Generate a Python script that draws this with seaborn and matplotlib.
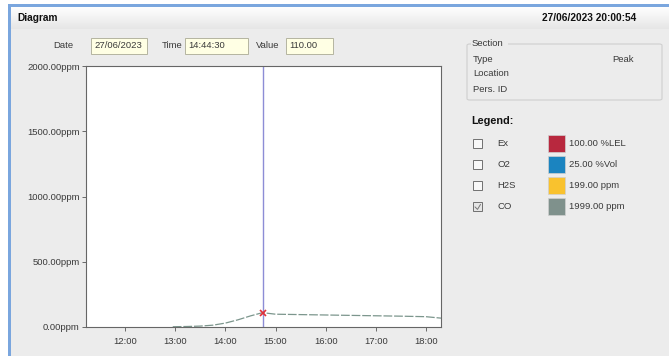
import matplotlib
matplotlib.use("Agg")
import matplotlib.pyplot as plt
import numpy as np
import pandas as pd
import seaborn as sns
from matplotlib.patches import Rectangle, FancyBboxPatch
from matplotlib.ticker import FixedLocator, FuncFormatter

W, H = 669, 356

# CO reading over time (decimal hours)
co_hours = [12.95, 13.25, 13.5, 13.75, 14.0, 14.25, 14.5, 14.742, 15.0, 15.5, 16.0, 16.5, 17.0, 17.5, 18.0, 18.3]
co_ppm = [2, 4, 7, 14, 30, 55, 85, 110, 98, 95, 92, 89, 86, 83, 79, 68]

cursor_hour = 14.742
cursor_value = 110.0
y_ticks = [0, 500, 1000, 1500, 2000]
x_ticks = [12, 13, 14, 15, 16, 17, 18]

legend_names = ["Ex", "O2", "H2S", "CO"]
legend_values = ["100.00 %LEL", "25.00 %Vol", "199.00 ppm", "1999.00 ppm"]
legend_colors = ["#b8283e", "#1b84c0", "#f9c22e", "#7f918c"]
legend_checked = [False, False, False, True]

section_rows = [("Type", "Peak"), ("Location", ""), ("Pers. ID", "")]

FS = 6.8


def fx(x):
    return x / W


def fy(y):
    return 1 - y / H


def rect(fig, x0, y0, x1, y1, **kw):
    r = Rectangle((fx(x0), fy(y1)), (x1 - x0) / W, (y1 - y0) / H, transform=fig.transFigure, **kw)
    fig.add_artist(r)
    return r


def label(fig, x, y, s, **kw):
    kw.setdefault("fontsize", FS)
    kw.setdefault("color", "#3a3a3a")
    kw.setdefault("va", "center")
    fig.text(fx(x), fy(y), s, **kw)


sns.set_theme(style="white")
plt.rcParams["font.family"] = ["Liberation Sans", "DejaVu Sans"]

fig = plt.figure(figsize=(W / 100, H / 100), dpi=100)
fig.patch.set_facecolor("#ececec")

# window frame
rect(fig, 0, 0, W, 5, facecolor="white", edgecolor="none")
rect(fig, 0, 0, 8, H, facecolor="white", edgecolor="none")
rect(fig, 8, 4, W, 6.5, facecolor="#7aa6de", edgecolor="none")
rect(fig, 8, 4, 10.5, H, facecolor="#7aa6de", edgecolor="none")

# header bar with gradient
hdr = fig.add_axes([fx(10.5), fy(29), (W - 10.5) / W, 22.5 / H])
grad = np.linspace(1.0, 0.9, 50).reshape(-1, 1)
hdr.imshow(grad, aspect="auto", cmap="gray", vmin=0, vmax=1, extent=[0, 1, 0, 1])
hdr.set_axis_off()
rect(fig, 10.5, 28.5, W, 29.3, facecolor="#d4d4d4", edgecolor="none")
label(fig, 17, 18, "Diagram", fontweight="bold", fontsize=7.3, color="#111111")
label(fig, 636, 18, "27/06/2023 20:00:54", fontweight="bold", fontsize=7.3, color="#111111", ha="right")

# cursor readout fields
fields = [("Date", 53, 91, 147, "27/06/2023"), ("Time", 162, 185, 248, "14:44:30"),
          ("Value", 256, 286, 333, f"{cursor_value:.2f}")]
for name, lx, x0, x1, val in fields:
    label(fig, lx, 46, name)
    rect(fig, x0, 38, x1, 54, facecolor="#ffffe4", edgecolor="#b5b5a0", linewidth=0.7)
    label(fig, x0 + 3, 46, val)

# main chart
ax = fig.add_axes([fx(86), fy(327), (441 - 86) / W, (327 - 66) / H])
ax.set_facecolor("white")
df = pd.DataFrame({"hour": co_hours, "ppm": co_ppm})
sns.lineplot(data=df, x="hour", y="ppm", ax=ax, color="#7c968d", linewidth=0.9, linestyle=(0, (7, 1.5)))
ax.axvline(cursor_hour, color="#8d8dd6", linewidth=1.0)
ax.plot([cursor_hour], [cursor_value], marker="x", color="#e0303a", markersize=4, markeredgewidth=1.2)
ax.set_xlim(11.22, 18.3)
ax.set_ylim(0, 2000)
ax.xaxis.set_major_locator(FixedLocator(x_ticks))
ax.yaxis.set_major_locator(FixedLocator(y_ticks))
ax.xaxis.set_major_formatter(FuncFormatter(lambda v, p: f"{int(v):02d}:00"))
ax.yaxis.set_major_formatter(FuncFormatter(lambda v, p: f"{v:.2f}ppm"))
ax.set_xlabel("")
ax.set_ylabel("")
ax.tick_params(axis="both", which="major", labelsize=FS, labelcolor="#3a3a3a", length=3, width=0.6,
               color="#555555", bottom=True, left=True, pad=1.5)
ax.tick_params(axis="x", pad=4)
for sp in ax.spines.values():
    sp.set_color("#666666")
    sp.set_linewidth(0.8)

# section group box
box = FancyBboxPatch((fx(467), fy(100)), (662 - 467) / W, (100 - 44) / H, boxstyle="round,pad=0,rounding_size=0.004",
                     transform=fig.transFigure, facecolor="none", edgecolor="#cfcfcf", linewidth=0.8)
fig.add_artist(box)
rect(fig, 471, 40, 508, 48, facecolor="#ececec", edgecolor="none")
label(fig, 472, 44, "Section")
for i, (k, v) in enumerate(section_rows):
    label(fig, 473, 59 + i * 15, k)
    if v:
        label(fig, 612, 59 + i * 15, v)

# legend panel
label(fig, 471, 121, "Legend:", fontweight="bold", fontsize=7.8, color="#111111")
for i, (n, v, c, chk) in enumerate(zip(legend_names, legend_values, legend_colors, legend_checked)):
    yc = 143 + i * 21.3
    rect(fig, 473, yc - 4.5, 482, yc + 4.5, facecolor="#f8f8f8" if not chk else "#e6e6e6",
         edgecolor="#707070", linewidth=0.7)
    if chk:
        fig.lines.append(plt.Line2D([fx(475), fx(477.5), fx(480.5)], [fy(yc), fy(yc + 2.5), fy(yc - 2.5)],
                                    transform=fig.transFigure, color="#777777", linewidth=0.7))
    label(fig, 497, yc, n)
    rect(fig, 548, yc - 8.5, 565, yc + 8.5, facecolor=c, edgecolor="#d0d0d0", linewidth=0.5)
    label(fig, 569, yc, v)

fig.savefig("out.png", dpi=100, facecolor=fig.get_facecolor())
